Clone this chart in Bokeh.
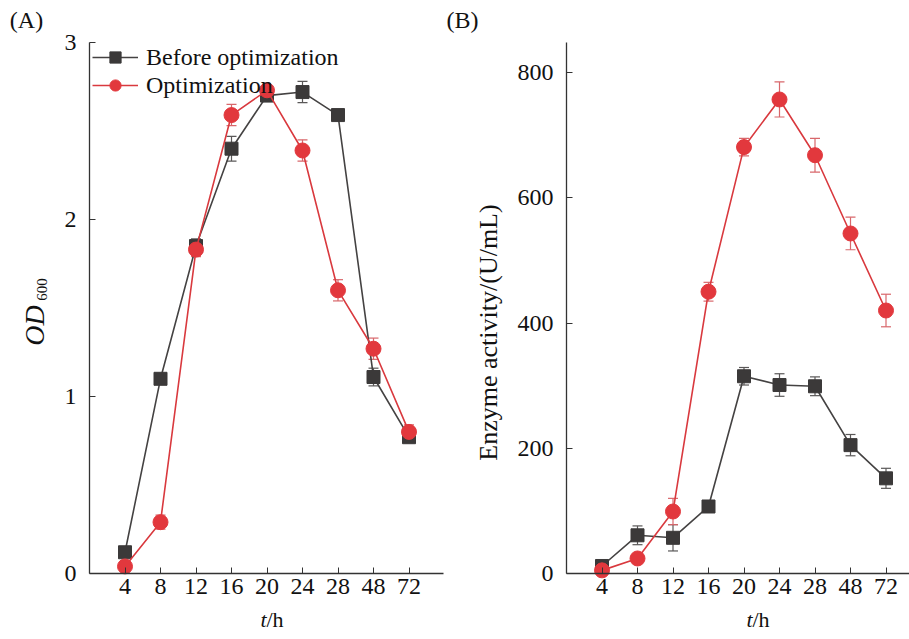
import math
from bokeh.plotting import figure
from bokeh.models import (ColumnDataSource, Whisker, TeeHead, Label, Legend, LegendItem,
                          FixedTicker, Range1d)
from bokeh.layouts import row
from bokeh.embed import file_html
from bokeh.resources import INLINE

# ---------------- data ----------------
time_labels = ["4", "8", "12", "16", "20", "24", "28", "48", "72"]
positions = [1, 2, 3, 4, 5, 6, 7, 8, 9]

od_before = [0.12, 1.10, 1.85, 2.40, 2.70, 2.72, 2.59, 1.11, 0.77]
od_before_err = [0.02, 0.03, 0.04, 0.07, 0.03, 0.06, 0.03, 0.05, 0.03]
od_opt = [0.04, 0.29, 1.83, 2.59, 2.73, 2.39, 1.60, 1.27, 0.80]
od_opt_err = [0.02, 0.04, 0.04, 0.06, 0.03, 0.06, 0.06, 0.06, 0.04]

enz_before = [12, 61, 57, 107, 315, 301, 299, 205, 152]
enz_before_err = [4, 15, 21, 5, 14, 18, 15, 17, 16]
enz_opt = [5, 24, 99, 450, 681, 757, 668, 543, 420]
enz_opt_err = [3, 4, 21, 15, 14, 28, 27, 26, 26]

od_ticks = [0, 1, 2, 3]
enz_ticks = [0, 200, 400, 600, 800]

FONT = "Liberation Serif"
BLACK = "#3b3939"
BLACK_LINE = "#444242"
BLACK_ERR = "#5a5858"
RED = "#e2383d"
RED_LINE = "#d9393e"
RED_ERR = "#d8676b"
PX = 35.5    # pixels per category step
H = 631      # canvas height
SPLIT = 444  # canvas boundary between the panels
DY = -8      # vertical shift of the whole drawing
Y0 = 581 + DY  # pixel row of the x axis
XLAB_Y = 619   # baseline row of the x-axis titles


def style_axes(p, xbounds, ybounds, yticks):
    for ax in (p.xaxis, p.yaxis):
        ax.axis_line_color = "#333333"
        ax.axis_line_width = 1.3
        ax.major_tick_line_color = "#333333"
        ax.major_tick_in = 6
        ax.major_tick_out = 0
        ax.minor_tick_line_color = None
        ax.major_label_text_font = FONT
        ax.major_label_text_font_size = "24px"
        ax.major_label_text_color = "#111111"
        ax.fixed_location = 0
    p.xaxis.bounds = xbounds
    p.yaxis.bounds = ybounds
    p.xaxis.major_label_standoff = 5
    p.yaxis.major_label_standoff = 13
    p.xaxis.ticker = FixedTicker(ticks=positions)
    p.xaxis.major_label_overrides = {pos: lab for pos, lab in zip(positions, time_labels)}
    p.yaxis.ticker = FixedTicker(ticks=yticks)
    p.xgrid.grid_line_color = None
    p.ygrid.grid_line_color = None
    p.outline_line_color = None
    p.background_fill_color = "white"
    p.border_fill_color = "white"


def add_series(p, y, err, color, line_color, err_color, marker):
    src = ColumnDataSource(dict(x=positions, y=y,
                                upper=[a + b for a, b in zip(y, err)],
                                lower=[a - b for a, b in zip(y, err)]))
    w = Whisker(source=src, base="x", upper="upper", lower="lower",
                line_color=err_color, line_width=1.2, level="underlay",
                upper_head=TeeHead(size=10, line_color=err_color, line_width=1.2),
                lower_head=TeeHead(size=10, line_color=err_color, line_width=1.2))
    p.add_layout(w)
    ln = p.line("x", "y", source=src, line_color=line_color, line_width=1.6)
    if marker == "square":
        mk = p.scatter("x", "y", source=src, marker="square", size=13,
                       fill_color=color, line_color=color)
    else:
        mk = p.scatter("x", "y", source=src, marker="circle", size=15,
                       fill_color=color, line_color=color)
    return ln, mk


def lab(p, text, x, y, size="23px", style="normal", angle=0.0, align="center", baseline="middle"):
    p.add_layout(Label(x=x, y=y, text=text, text_font=FONT, text_font_size=size,
                       text_font_style=style, angle=angle, text_align=align,
                       text_baseline=baseline, text_color="#111111"))


# ---------------- panel A (canvas x 0..SPLIT) ----------------
pyA = 531.0 / 3.0
pa = figure(width=SPLIT, height=H, output_backend="svg", toolbar_location=None,
            x_range=Range1d((0 - 89) / PX, (SPLIT - 89) / PX),
            y_range=Range1d((Y0 - H) / pyA, Y0 / pyA),
            min_border=0)
style_axes(pa, (0, (443 - 89) / PX), (0, 3), od_ticks)

lb, mb = add_series(pa, od_before, od_before_err, BLACK, BLACK_LINE, BLACK_ERR, "square")
lo, mo = add_series(pa, od_opt, od_opt_err, RED, RED_LINE, RED_ERR, "circle")

legend = Legend(items=[LegendItem(label="Before optimization", renderers=[lb, mb]),
                       LegendItem(label="Optimization", renderers=[lo, mo])],
                location=(92, H - (107 + DY)), margin=0, padding=3, spacing=0,
                glyph_width=46, glyph_height=28, label_height=27, label_standoff=8,
                label_text_font=FONT, label_text_font_size="24px",
                label_text_color="#111111", label_text_baseline="middle",
                background_fill_alpha=0, border_line_color=None)
pa.add_layout(legend)

lab(pa, "(A)", (26 - 89) / PX, (Y0 - (27 + DY)) / pyA, size="24px")
lab(pa, "OD", (34 - 89) / PX, (Y0 - (333 + DY)) / pyA, size="28px", style="italic", angle=math.pi / 2)
lab(pa, "600", (41 - 89) / PX, (Y0 - (297 + DY)) / pyA, size="15px", angle=math.pi / 2)
lab(pa, "t", (266 - 89) / PX, (Y0 - XLAB_Y) / pyA, size="22px", style="italic", align="right", baseline="alphabetic")
lab(pa, "/h", (266 - 89) / PX, (Y0 - XLAB_Y) / pyA, size="22px", align="left", baseline="alphabetic")

# ---------------- panel B (canvas x SPLIT..909) ----------------
pyB = 531.0 / 848.0
pb = figure(width=909 - SPLIT, height=H, output_backend="svg", toolbar_location=None,
            x_range=Range1d((SPLIT - 566) / PX, (909 - 566) / PX),
            y_range=Range1d((Y0 - H) / pyB, Y0 / pyB),
            min_border=0)
style_axes(pb, (0, (909 - 566) / PX), (0, 848), enz_ticks)

add_series(pb, enz_before, enz_before_err, BLACK, BLACK_LINE, BLACK_ERR, "square")
add_series(pb, enz_opt, enz_opt_err, RED, RED_LINE, RED_ERR, "circle")

lab(pb, "(B)", (462 - 566) / PX, (Y0 - (27 + DY)) / pyB, size="24px")
lab(pb, "Enzyme activity/(U/mL)", (488 - 566) / PX, (Y0 - (340 + DY)) / pyB, size="26px", angle=math.pi / 2)
lab(pb, "t", (752 - 566) / PX, (Y0 - XLAB_Y) / pyB, size="22px", style="italic", align="right", baseline="alphabetic")
lab(pb, "/h", (752 - 566) / PX, (Y0 - XLAB_Y) / pyB, size="22px", align="left", baseline="alphabetic")

layout = row(pa, pb)
open("out.html", "w").write(file_html(layout, INLINE))
